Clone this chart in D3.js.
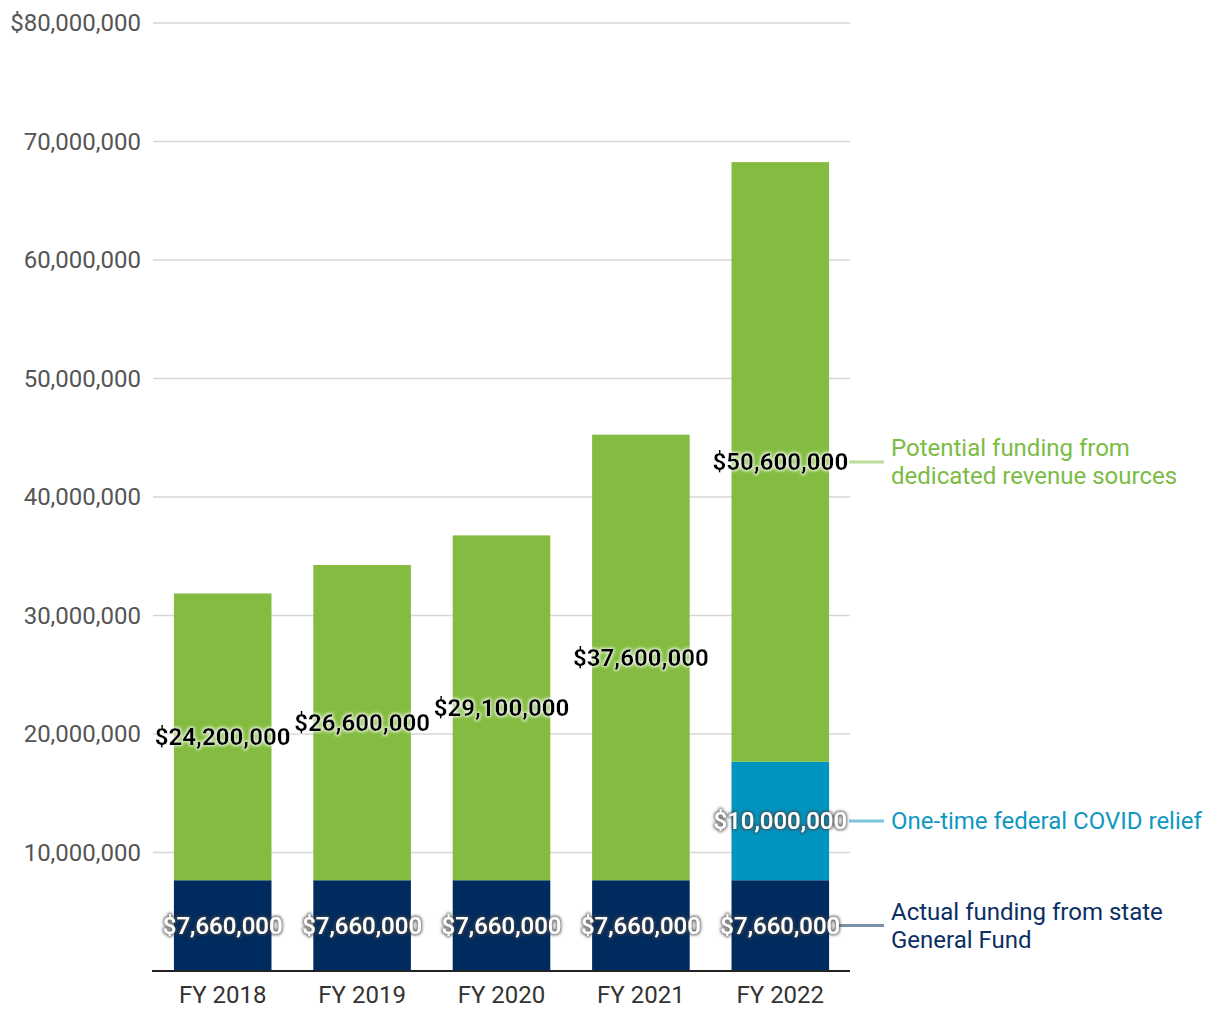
<!DOCTYPE html>
<html><head><meta charset="utf-8">
<script src="https://cdn.jsdelivr.net/npm/d3@7"></script>
<style>body{margin:0;background:#fff;} svg{font-family:Roboto,"Noto Sans",sans-serif;}</style>
</head><body>
<svg id="c" width="1220" height="1020"></svg>
<script>
const categories = ["FY 2018","FY 2019","FY 2020","FY 2021","FY 2022"];
const generalFund = [7660000,7660000,7660000,7660000,7660000];
const covidRelief = [0,0,0,0,10000000];
const dedicated = [24200000,26600000,29100000,37600000,50600000];
const yTicks = [10000000,20000000,30000000,40000000,50000000,60000000,70000000,80000000];
const seriesNames = ["Actual funding from state\nGeneral Fund","One-time federal COVID relief","Potential funding from\ndedicated revenue sources"];
const colors = ["#002b5e","#0095c0","#84bc41"];
const legendText = ["#0b2f63","#0f97c2","#7cbb44"];
const legendLine = ["#7a8fa8","#7cc6dd","#bcdc9a"];

const svg = d3.select("#c");
const x = d3.scaleBand().domain(categories).range([153,850]).paddingInner(0.3).paddingOuter(0.15);
const y = d3.scaleLinear().domain([0,80000000]).range([971,23]);

const defs = svg.append("defs");
const f1 = defs.append("filter").attr("id","glowW").attr("x","-20%").attr("y","-50%").attr("width","140%").attr("height","200%");
f1.append("feMorphology").attr("in","SourceAlpha").attr("operator","dilate").attr("radius",0.8).attr("result","d");
f1.append("feGaussianBlur").attr("in","d").attr("stdDeviation",1.5).attr("result","b");
f1.append("feFlood").attr("flood-color","#ffffff").attr("flood-opacity",0.85);
f1.append("feComposite").attr("in2","b").attr("operator","in").attr("result","g");
const m1 = f1.append("feMerge"); m1.append("feMergeNode").attr("in","g"); m1.append("feMergeNode").attr("in","SourceGraphic");
const f2 = defs.append("filter").attr("id","glowG").attr("x","-20%").attr("y","-50%").attr("width","140%").attr("height","200%");
f2.append("feMorphology").attr("in","SourceAlpha").attr("operator","dilate").attr("radius",0.5).attr("result","d");
f2.append("feGaussianBlur").attr("in","d").attr("stdDeviation",1.6).attr("result","b");
f2.append("feFlood").attr("flood-color","#444444").attr("flood-opacity",0.85);
f2.append("feComposite").attr("in2","b").attr("operator","in").attr("result","g");
const m2 = f2.append("feMerge"); m2.append("feMergeNode").attr("in","g"); m2.append("feMergeNode").attr("in","SourceGraphic");

// y axis labels
const yAxis = d3.axisLeft(y).tickValues(yTicks).tickSize(0).tickPadding(12)
  .tickFormat(d => (d===80000000?"$":"") + d3.format(",")(d));
const ga = svg.append("g").attr("transform","translate(153,0)").call(yAxis);
ga.select(".domain").remove();
ga.selectAll("text").attr("font-size",24).attr("fill","#555").attr("font-family","Roboto");
// gridlines
svg.append("g").selectAll("line").data(yTicks).join("line")
  .attr("x1",153).attr("x2",850).attr("y1",d=>y(d)).attr("y2",d=>y(d))
  .attr("stroke","#d6d6d6").attr("stroke-width",1.5);

// stacks
const data = categories.map((c,i)=>({cat:c, gf:generalFund[i], cv:covidRelief[i], dd:dedicated[i]}));
const stack = d3.stack().keys(["gf","cv","dd"])(data);
const gBars = svg.append("g");
stack.forEach((s,si)=>{
  gBars.selectAll(null).data(s).join("rect")
    .attr("x",d=>x(d.data.cat)).attr("width",x.bandwidth())
    .attr("y",d=>y(d[1])).attr("height",d=>y(d[0])-y(d[1]))
    .attr("fill",colors[si]);
});

// baseline
svg.append("line").attr("x1",152).attr("x2",850).attr("y1",y(0)).attr("y2",y(0)).attr("stroke","#222").attr("stroke-width",2);

// x labels
const xAxis = d3.axisBottom(x).tickSize(0).tickPadding(15);
const gx = svg.append("g").attr("transform",`translate(0,${y(0)})`).call(xAxis);
gx.select(".domain").remove();
gx.selectAll("text").attr("font-size",24).attr("fill","#333").attr("font-family","Roboto");

// legend lines and labels
const last = stack.map(s=>s[s.length-1]);
const lg = svg.append("g");
const lineStart = [838, 849, 849];
last.forEach((d,si)=>{
  const cy = y((d[0]+d[1])/2);
  lg.append("line").attr("x1",lineStart[si]).attr("x2",884).attr("y1",cy).attr("y2",cy)
    .attr("stroke",legendLine[si]).attr("stroke-width",3);
  const lines = seriesNames[si].split("\n");
  const t = lg.append("text").attr("x",891).attr("font-size",24).attr("fill",legendText[si]).attr("font-family","Roboto");
  lines.forEach((ln,li)=>{
    t.append("tspan").attr("x",891).attr("y",cy + (li - (lines.length-1)/2)*28).attr("dy","0.35em").text(ln);
  });
});

// value labels
const fmt = d => "$" + d3.format(",")(d);
const labels = svg.append("g");
stack.forEach((s,si)=>{
  s.forEach(d=>{
    const v = d[1]-d[0];
    if (v<=0) return;
    const cx = x(d.data.cat)+x.bandwidth()/2;
    const cy = y((d[0]+d[1])/2);
    const t = labels.append("text").attr("x",cx).attr("y",cy).attr("dy","0.35em")
      .attr("text-anchor","middle").attr("font-size",24).attr("font-family","Roboto")
      .text(fmt(v));
    if (si===2) t.attr("fill","#000").attr("font-weight",700).attr("filter","url(#glowW)");
    else t.attr("fill","#fff").attr("font-weight",500).attr("filter","url(#glowG)");
  });
});
</script>
</body></html>
